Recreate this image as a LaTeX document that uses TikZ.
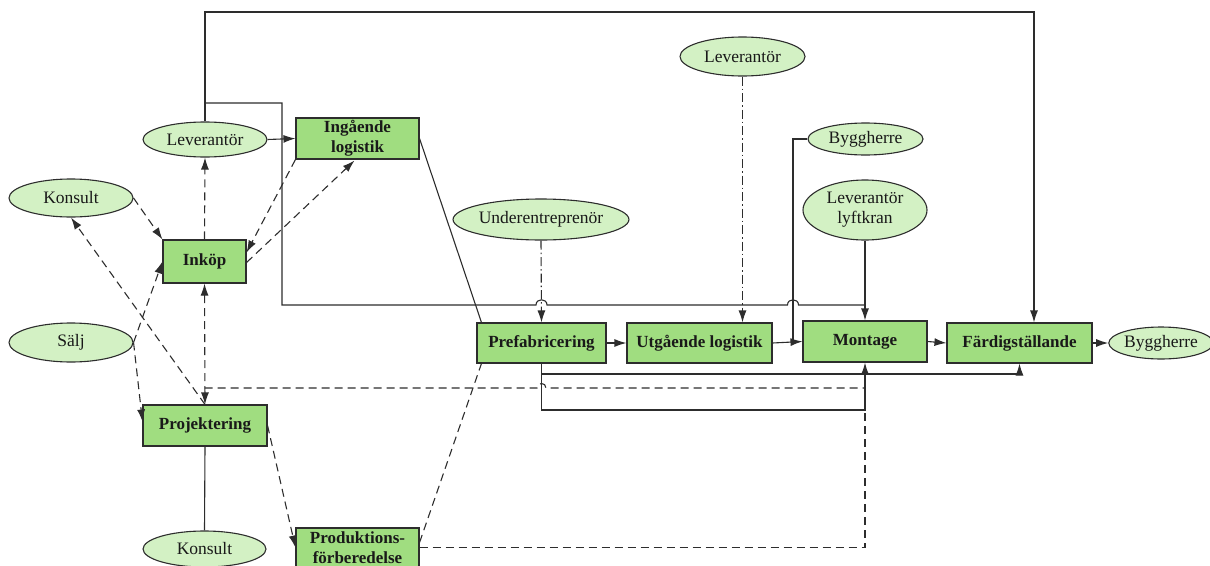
\documentclass[tikz,border=0pt]{standalone}
\usepackage{fontspec}
\setmainfont{Liberation Serif}
\usetikzlibrary{shapes.geometric,arrows.meta,calc}
\definecolor{boxgreen}{RGB}{160,221,128}
\definecolor{ellgreen}{RGB}{211,241,196}
\definecolor{linegray}{RGB}{45,45,45}
\begin{document}
\begin{tikzpicture}[x=1pt,y=-1pt,
  every node/.style={font=\fontsize{17.5}{20}\selectfont, text=black!90},
  stage/.style={draw=linegray, line width=1.1pt, fill=boxgreen,
    font=\fontsize{17}{20}\selectfont\bfseries, align=center, inner sep=0pt},
  actor/.style={ellipse, draw=linegray, line width=1.1pt, fill=ellgreen,
    align=center, inner sep=0pt},
  flow/.style={draw=linegray, line width=1.1pt},
  arr/.style={-{Latex[length=12pt,width=8pt]}},
  twoway/.style={{Latex[length=12pt,width=8pt]}-{Latex[length=12pt,width=8pt]}},
  dashedflow/.style={flow, dash pattern=on 8pt off 5pt},
  dashdot/.style={flow, dash pattern=on 9pt off 3pt on 1.5pt off 3pt},
]
\useasboundingbox (0,0) rectangle (1210,565);

% process stages
\node[stage, minimum width=123pt, minimum height=41pt] (ingl)   at (357.5,138.5) {Ingående\\logistik};
\node[stage, minimum width=83pt,  minimum height=43pt] (inkop)  at (204.5,261.5) {Inköp};
\node[stage, minimum width=124pt, minimum height=41pt] (proj)   at (205,425.5)   {Projektering};
\node[stage, minimum width=123pt, minimum height=39pt] (prod)   at (357.5,547.5) {Produktions-\\förberedelse};
\node[stage, minimum width=129pt, minimum height=40pt] (prefab) at (541.5,343)   {Prefabricering};
\node[stage, minimum width=145pt, minimum height=40pt] (utg)    at (699.5,343)   {Utgående logistik};
\node[stage, minimum width=124pt, minimum height=41pt] (mont)   at (865,341.5)   {Montage};
\node[stage, minimum width=145pt, minimum height=40pt] (fard)   at (1019.5,343)  {Färdigställande};

% actors
\node[actor, minimum width=124pt, minimum height=35pt] (lev1)    at (205,139.5) {Leverantör};
\node[actor, minimum width=124pt, minimum height=38pt] (kons1)   at (71,198)    {Konsult};
\node[actor, minimum width=124pt, minimum height=39pt] (salj)    at (71,342.5)  {Sälj};
\node[actor, minimum width=123pt, minimum height=36pt] (kons2)   at (204.5,549) {Konsult};
\node[actor, minimum width=170pt, minimum height=41pt] (under)   at (541,219.5) {Underentreprenör};
\node[actor, minimum width=125pt, minimum height=39pt] (lev2)    at (742.5,56.5) {Leverantör};
\node[actor, minimum width=115pt, minimum height=32pt] (bygg1)   at (865.5,139) {Byggherre};
\node[actor, minimum width=124pt, minimum height=60pt] (levlyft) at (865,210)   {Leverantör\\lyftkran};
\node[actor, minimum width=98pt,  minimum height=32pt] (bygg2)   at (1161,343)  {Byggherre};

% bend points
\coordinate (topL) at (205,12);
\coordinate (topR) at (1034,12);
\coordinate (j1) at (205,103);
\coordinate (j2) at (282,103);
\coordinate (byggbend) at (793,341.5);
\coordinate (pb1) at (541.5,374);
\coordinate (pb2) at (541.5,410);
\coordinate (d1) at (204.5,388);

% solid flows
\draw[flow,arr] (lev1.north) -- (topL) -- (topR) -- (topR |- fard.north);
\draw[flow] (j1) -- (j2) -- (282,305) -- (536,305)
  .. controls (536,298) and (547,298) .. (547,305) -- (787.5,305)
  .. controls (787.5,298) and (798.5,298) .. (798.5,305) -- (865,305);
\draw[flow,arr] (lev1.east) -- (ingl.west);
\draw[flow,arr] (levlyft.south) -- (mont.north);
\draw[flow] (ingl.east) -- ($(prefab.north west)+(5,0)$);
\draw[flow] (bygg1.west) -| (byggbend);
\draw[flow,arr] (prefab.east) -- (utg.west);
\draw[flow,arr] (utg.east) -- (mont.west);
\draw[flow,arr] (mont.east) -- (fard.west);
\draw[flow,arr] (fard.east) -- (bygg2.west);
\draw[flow,arr] (prefab.south) -- (pb2) -| (mont.south);
\draw[flow,arr] (pb1) -| (fard.south);
\draw[flow] (kons2.north) -- (proj.south);

% dash-dotted flows
\draw[dashdot,arr] (lev2.south) -- (lev2.south |- utg.north);
\draw[dashdot,arr] (under.south) -- (prefab.north);

% dashed flows
\draw[dashedflow,arr] (inkop.north) -- (lev1.south);
\draw[dashedflow,arr] (ingl.south west) -- ($(inkop.east)+(0,-9)$);
\draw[dashedflow,arr] ($(inkop.east)+(0,1)$) -- ($(ingl.south)+(-3,1)$);
\draw[dashedflow,arr] (kons1.east) -- (inkop.north west);
\draw[dashedflow,arr] (proj.north) -- (kons1.south);
\draw[dashedflow,arr] (salj.east) -- (inkop.west);
\draw[dashedflow,arr] (salj.east) -- ($(proj.west)+(0,-4)$);
\draw[dashedflow,twoway] (inkop.south) -- (proj.north);
\draw[dashedflow] (d1) -- (537,388)
  .. controls (537,382) and (546,382) .. (546,388) -- (865,388);
\draw[dashedflow,arr] (proj.east) -- (prod.west);
\draw[dashedflow] (prod.east) -| (mont.south |- pb2);
\draw[dashedflow] ($(prod.east)+(0,-5)$) -- ($(prefab.south west)+(5,0)$);
\end{tikzpicture}
\end{document}
